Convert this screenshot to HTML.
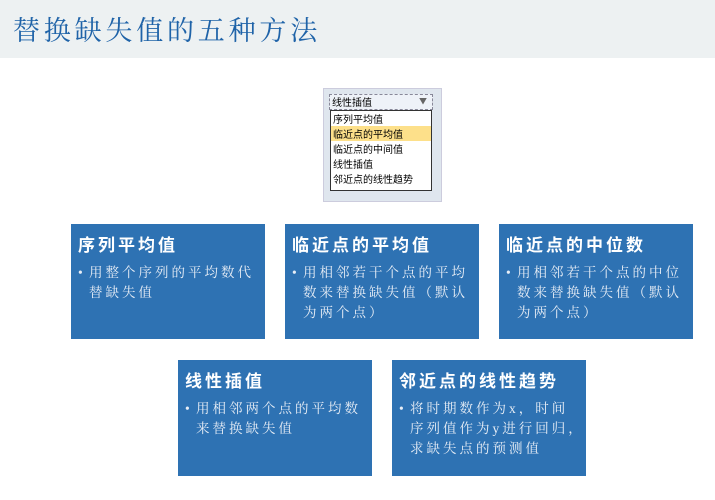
<!DOCTYPE html>
<html><head><meta charset="utf-8"><style>
body{margin:0;width:715px;height:500px;background:#fff;position:relative;overflow:hidden;font-family:"Liberation Serif","Noto Serif CJK SC",serif}
.hd{position:absolute;left:0;top:0;width:715px;height:58px;background:#edf1f2}
.hd span{position:absolute;left:13px;top:9px;font-size:27px;color:#1f63a8;letter-spacing:3.8px}
.b{position:absolute;width:194px;height:115px;background:#2e72b3;color:#fff}
.b h3{margin:0;position:absolute;left:7px;top:7px;font-size:17px;font-weight:bold;letter-spacing:3px;font-family:"Noto Sans CJK SC",sans-serif}
.b p{margin:0;position:absolute;left:18px;top:39px;white-space:nowrap;font-size:13.5px;line-height:20px;letter-spacing:3px;color:#e8eef6}
.b p:before{content:"•";position:absolute;left:-11px}
.dd{position:absolute;left:323px;top:88px;width:117px;height:112px;background:#dfe6ee;border:1px solid #ccd}
.dd .sel{position:absolute;left:5px;top:5px;width:100px;height:14px;border:1px dashed #889;background:#eef2f8;font-size:10px;font-family:"Noto Sans CJK SC",sans-serif;line-height:14px;padding-left:2px}
.dd .sel i{position:absolute;right:5px;top:0;font-style:normal;font-size:8px;color:#666}
.dd .lst{position:absolute;left:6px;top:21px;width:100px;height:79px;background:#fff;border:1px solid #333;font-size:10px;font-family:"Noto Sans CJK SC",sans-serif;line-height:15px}
.lst div{padding-left:2px;height:15px}
</style></head><body>
<div class="hd"><span>替换缺失值的五种方法</span></div>
<div class="dd"><div class="sel">线性插值<i>▼</i></div>
<div class="lst"><div>序列平均值</div><div style="background:#fde08a">临近点的平均值</div><div>临近点的中间值</div><div>线性插值</div><div>邻近点的线性趋势</div></div></div>
<div class="b" style="left:71px;top:224px"><h3>序列平均值</h3><p>用整个序列的平均数代<br>替缺失值</p></div>
<div class="b" style="left:285px;top:224px"><h3>临近点的平均值</h3><p>用相邻若干个点的平均<br>数来替换缺失值（默认<br>为两个点）</p></div>
<div class="b" style="left:499px;top:224px"><h3>临近点的中位数</h3><p>用相邻若干个点的中位<br>数来替换缺失值（默认<br>为两个点）</p></div>
<div class="b" style="left:178px;top:360px;height:116px"><h3>线性插值</h3><p>用相邻两个点的平均数<br>来替换缺失值</p></div>
<div class="b" style="left:392px;top:360px;height:116px"><h3>邻近点的线性趋势</h3><p>将时期数作为x，时间<br>序列值作为y进行回归，<br>求缺失点的预测值</p></div>
</body></html>
